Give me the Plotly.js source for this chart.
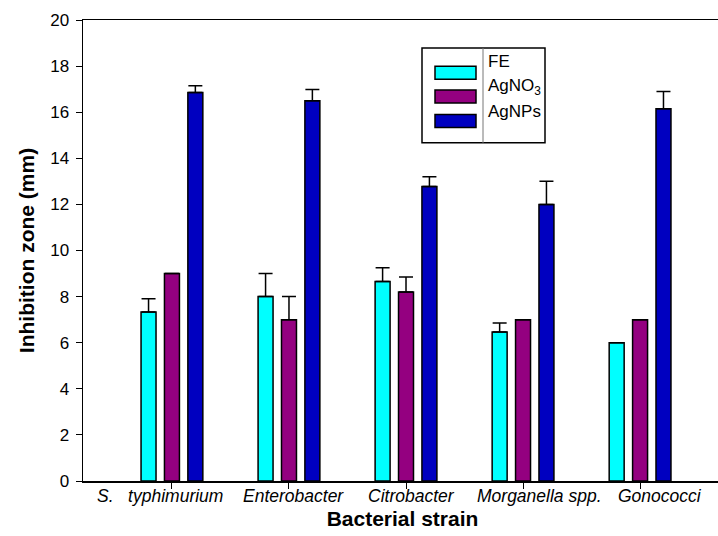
<!DOCTYPE html>
<html>
<head>
<meta charset="utf-8">
<script src="https://cdn.plot.ly/plotly-3.0.1.min.js"></script>
<style>
html,body{margin:0;padding:0;overflow:hidden;background:#fff;width:718px;height:536px;}
#chart{width:724px;height:536px;}
</style>
</head>
<body>
<div id="chart"></div>
<script>
// ---- data ----
const categories = ["S. typhimurium", "Enterobacter", "Citrobacter", "Morganella spp.", "Gonococci"];
const tickLabels = ["S.\u00A0\u00A0 typhimurium", "Enterobacter", "Citrobacter", "Morganella spp.", "Gonococci"];
const seriesNames = ["FE", "AgNO<sub>3</sub>", "AgNPs"];
const feValues    = [7.33, 8.0, 8.65, 6.46, 6.0];
const feErrors    = [0.58, 1.0, 0.6, 0.4, 0];
const agno3Values = [9.0, 7.0, 8.2, 7.0, 7.0];
const agno3Errors = [0, 1.0, 0.65, 0, 0];
const agnpValues  = [16.85, 16.5, 12.78, 12.0, 16.15];
const agnpErrors  = [0.3, 0.48, 0.42, 1.0, 0.75];
const yTickVals   = [0, 2, 4, 6, 8, 10, 12, 14, 16, 18, 20];

// style: the original's labels sit slightly off their ticks
const labelShift = [-12, 5, 5, 16, 20];
const colors = ["#00FFFF", "#940080", "#0000C0"];
const FONT = "Arial, 'Liberation Sans', sans-serif";

// plot area in pixels
const FIG_W = 724, FIG_H = 536;
const M = {l: 83, r: 2, t: 20, b: 54.5};
const PW = FIG_W - M.l - M.r, PH = FIG_H - M.t - M.b;
const px = x => (x - M.l) / PW;
const py = y => 1 - (y - M.t) / PH;

function mk(name, vals, errs, color) {
  return {
    type: "bar",
    name: name,
    x: categories,
    y: vals,
    marker: {color: color, line: {color: "#000", width: 1.5}},
    error_y: {type: "data", symmetric: false, array: errs,
              arrayminus: errs.map(() => 0), color: "#000", thickness: 1.5, width: 7},
    showlegend: false,
    hoverinfo: "x+y"
  };
}

const data = [
  mk(seriesNames[0], feValues, feErrors, colors[0]),
  mk(seriesNames[1], agno3Values, agno3Errors, colors[1]),
  mk(seriesNames[2], agnpValues, agnpErrors, colors[2])
];

// manual legend
const shapes = [
  {type: "rect", xref: "paper", yref: "paper", x0: px(422), x1: px(545), y0: py(48), y1: py(143),
   line: {color: "#000", width: 1.5}, fillcolor: "rgba(0,0,0,0)"},
  {type: "line", xref: "paper", yref: "paper", x0: px(483), x1: px(483), y0: py(48), y1: py(143),
   line: {color: "#777", width: 1}}
];
const swY = [72.7, 96.7, 121];
const txY = [62, 87, 112];
const annotations = [];
for (let i = 0; i < 3; i++) {
  shapes.push({type: "rect", xref: "paper", yref: "paper", x0: px(435), x1: px(476),
    y0: py(swY[i] - 6.5), y1: py(swY[i] + 6.5), fillcolor: colors[i], line: {color: "#000", width: 1.5}});
  annotations.push({xref: "paper", yref: "paper", x: px(486), y: py(txY[i]), xanchor: "left", yanchor: "middle",
    text: seriesNames[i], showarrow: false, font: {family: FONT, size: 17, color: "#000"}});
}
// category labels, placed on the category axis
categories.forEach((c, i) => {
  annotations.push({xref: "x", yref: "paper", x: c, y: 0, yanchor: "top", xanchor: "center",
    xshift: labelShift[i], yshift: -3, text: tickLabels[i], showarrow: false,
    font: {family: FONT, size: 17.5, color: "#000", style: "italic"}});
});

const layout = {
  width: FIG_W, height: FIG_H,
  margin: M,
  paper_bgcolor: "#fff", plot_bgcolor: "#fff",
  font: {family: FONT, color: "#000"},
  barmode: "group",
  bargap: 0.4,
  bargroupgap: 0.36,
  showlegend: false,
  xaxis: {
    type: "category",
    range: [-0.76, 4.70],
    tickmode: "array", tickvals: categories,
    showticklabels: false,
    showline: true, linecolor: "#000", linewidth: 1.5, mirror: true,
    ticks: "outside", ticklen: 6, tickwidth: 1, tickcolor: "#000",
    showgrid: false, zeroline: false,
    title: {text: "<b>Bacterial strain</b>", font: {family: FONT, size: 21, color: "#000"}, standoff: 24}
  },
  yaxis: {
    range: [0, 20],
    tickvals: yTickVals,
    showline: true, linecolor: "#000", linewidth: 1.5, mirror: true,
    ticks: "outside", ticklen: 6, tickwidth: 1, tickcolor: "#000",
    ticklabelstandoff: 3,
    showgrid: false, zeroline: false,
    tickfont: {family: FONT, size: 17, color: "#000"},
    title: {text: "<b>Inhibition zone (mm)</b>", font: {family: FONT, size: 21, color: "#000"}, standoff: 10}
  },
  shapes: shapes,
  annotations: annotations
};

Plotly.newPlot("chart", data, layout, {displayModeBar: false, staticPlot: true});
</script>
</body>
</html>
